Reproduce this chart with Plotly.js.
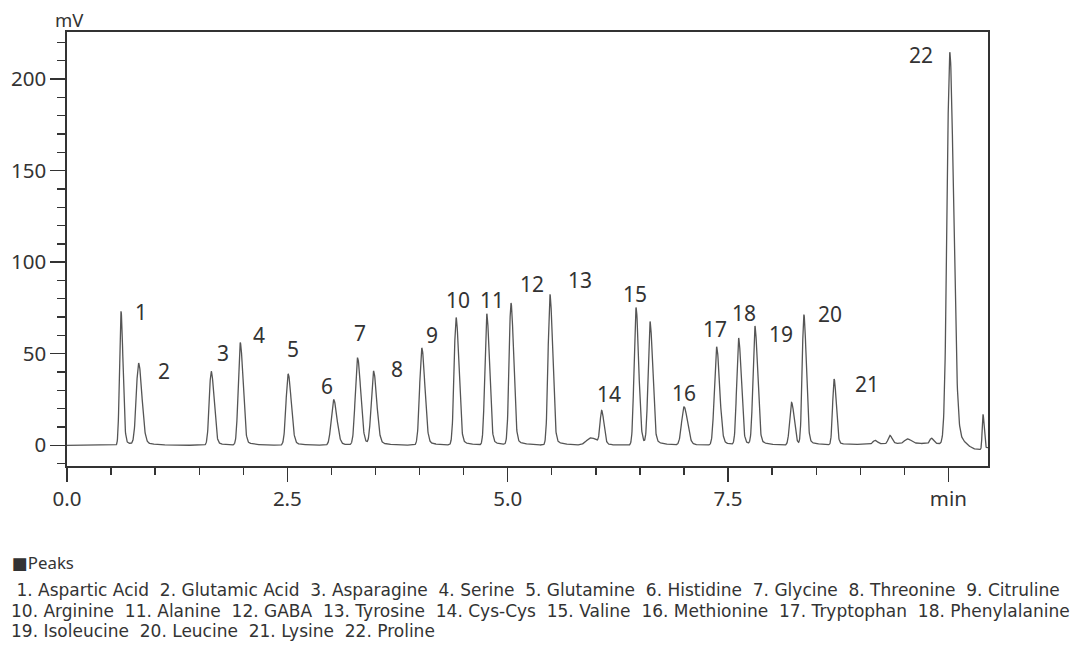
<!DOCTYPE html>
<html>
<head>
<meta charset="utf-8">
<script src="https://cdn.plot.ly/plotly-3.0.1.min.js"></script>
<style>
  html, body { margin: 0; padding: 0; background: #fff; }
  #chart { width: 1083px; height: 646px; }
</style>
</head>
<body>
<div id="chart"></div>
<script>
// ---- Data (peak table) ----
// retention time (min)
const peakTime   = [0.612, 0.812, 1.636, 1.965, 2.509, 3.024, 3.296, 3.477, 4.025, 4.414,
                    4.762, 5.037, 5.479, 5.944, 6.066, 6.455, 6.614, 7.000, 7.369, 7.619,
                    7.804, 8.220, 8.360, 8.703, 9.165, 9.335, 9.535, 9.807, 10.015, 10.300,
                    10.392, 9.500];
// peak height (mV)
const peakHeight = [73.2, 44.6, 40.4, 56.0, 38.8, 25.0, 47.5, 40.0, 53.1, 69.7,
                    71.7, 77.4, 82.4, 4.0, 18.0, 75.2, 66.8, 20.9, 53.7, 58.3,
                    64.6, 23.3, 71.0, 35.9, 2.0, 4.5, 2.5, 3.0, 214.0, -4.0,
                    19.0, 1.0];
// peak width (sigma, min)
const peakWidth  = [0.016, 0.026, 0.022, 0.022, 0.024, 0.026, 0.025, 0.025, 0.024, 0.022,
                    0.021, 0.021, 0.021, 0.050, 0.018, 0.021, 0.021, 0.027, 0.024, 0.021,
                    0.021, 0.021, 0.019, 0.017, 0.020, 0.018, 0.030, 0.018, 0.030, 0.100,
                    0.009, 0.400];

// peak names (numbered list under the chart)
const peakNames = ["Aspartic Acid", "Glutamic Acid", "Asparagine", "Serine", "Glutamine",
                   "Histidine", "Glycine", "Threonine", "Citruline", "Arginine", "Alanine",
                   "GABA", "Tyrosine", "Cys-Cys", "Valine", "Methionine", "Tryptophan",
                   "Phenylalanine", "Isoleucine", "Leucine", "Lysine", "Proline"];
const legendLineBreaks = [9, 18, 22];

// peak label numbers and where they are written (data coords)
const labelText = ["1","2","3","4","5","6","7","8","9","10","11","12","13","14","15","16","17","18","19","20","21","22"];
const labelPos = [[0.843,72.6],[1.095,40.4],[1.772,50.2],[2.180,60.1],[2.566,52.4],[2.951,32.2],
                  [3.325,61.2],[3.745,41.5],[4.138,60.1],[4.433,79.3],[4.822,79.3],[5.276,88.0],
                  [5.820,90.1],[6.148,27.8],[6.443,82.5],[7.002,28.4],[7.350,63.4],[7.682,72.1],
                  [8.100,60.6],[8.660,71.5],[9.080,33.3],[9.690,213.3]];

const xTickVals = [0, 2.5, 5, 7.5, 10];
const xTickText = ["0.0", "2.5", "5.0", "7.5", "min"];
const yTickVals = [0, 50, 100, 150, 200];

// ---- Build the detector trace from the peak table (tailed peak shape) ----
const tStart = 0, tEnd = 10.45, step = 0.0025;
const tt = [], signal = [];
for (let t = tStart; t <= tEnd + 1e-9; t += step) {
  let v = 0;
  for (let i = 0; i < peakTime.length; i++) {
    const d = t - peakTime[i], s = peakWidth[i], h = peakHeight[i];
    if (Math.abs(d) > 40 * s) continue;
    if (d < 0) {
      v += h * Math.exp(-0.5 * (d / s) * (d / s));
    } else {
      const sr = 1.4 * s;
      v += h * (Math.exp(-0.5 * (d / sr) * (d / sr)) +
                0.05 * Math.exp(-d / (5 * s)) * (1 - Math.exp(-0.5 * (d / s) * (d / s))));
    }
  }
  tt.push(+t.toFixed(4));
  signal.push(v);
}

const FONT = "Noto Sans, Open Sans, DejaVu Sans, sans-serif";
const LISTFONT = "DejaVu Sans, Noto Sans, sans-serif";
const TXT = "#333333";

const annotations = [];
for (let i = 0; i < labelText.length; i++) {
  annotations.push({
    x: labelPos[i][0], y: labelPos[i][1], xref: "x", yref: "y",
    text: labelText[i], showarrow: false, xanchor: "center", yanchor: "middle",
    font: {family: FONT, size: 21, color: TXT}
  });
}
annotations.push({
  x: 0.0025, y: (465.7 - 19.5) / 434, xref: "paper", yref: "paper", text: "mV", showarrow: false,
  xanchor: "center", yanchor: "middle", font: {family: FONT, size: 18.5, color: TXT}
});
// Peak list below chart
const lines = [];
let start = 0;
legendLineBreaks.forEach(function (end) {
  const parts = [];
  for (let k = start; k < end; k++) parts.push((k + 1) + ". " + peakNames[k]);
  lines.push(parts.join(" \u00a0"));
  start = end;
});
lines[0] = "\u00a0" + lines[0];
annotations.push({
  x: -0.0615, y: (465.7 - 562) / 434, xref: "paper", yref: "paper", text: "\u25A0Peaks",
  showarrow: false, xanchor: "left", yanchor: "middle", font: {family: FONT, size: 16.8, color: TXT}
});
const lineY = [590, 610.5, 631];
lines.forEach(function (ln, i) {
  annotations.push({
    x: -0.0615, y: (465.7 - lineY[i]) / 434, xref: "paper", yref: "paper", text: ln,
    showarrow: false, xanchor: "left", yanchor: "middle", borderpad: 0,
    font: {family: LISTFONT, size: 17.0, color: TXT}
  });
});

const trace = {
  x: tt, y: signal, type: "scatter", mode: "lines",
  line: {color: "#555555", width: 1.3}, hoverinfo: "skip"
};

const layout = {
  width: 1083, height: 646,
  margin: {l: 67, r: 95, t: 32, b: 180},
  paper_bgcolor: "#ffffff", plot_bgcolor: "#ffffff",
  showlegend: false,
  font: {family: FONT, color: TXT},
  xaxis: {
    range: [0, 10.449], showgrid: false, zeroline: false,
    showline: true, linecolor: "#333333", linewidth: 1.6, mirror: true,
    tickmode: "array", tickvals: xTickVals, ticktext: xTickText,
    ticks: "outside", ticklen: 14, tickwidth: 1.4, tickcolor: "#333333",
    tickfont: {family: FONT, size: 20.5, color: TXT},
    minor: {dtick: 0.5, tick0: 0, ticks: "outside", ticklen: 7, tickwidth: 1.4, tickcolor: "#333333", showgrid: false}
  },
  yaxis: {
    range: [-11.3, 225.66], showgrid: false, zeroline: false,
    showline: true, linecolor: "#333333", linewidth: 1.6, mirror: true,
    tickmode: "array", tickvals: yTickVals,
    ticks: "outside", ticklen: 15, tickwidth: 1.4, tickcolor: "#333333",
    tickfont: {family: FONT, size: 20.5, color: TXT},
    minor: {dtick: 10, tick0: 0, ticks: "outside", ticklen: 8, tickwidth: 1.4, tickcolor: "#333333", showgrid: false}
  },
  annotations: annotations
};

Plotly.newPlot("chart", [trace], layout, {displayModeBar: false, staticPlot: true});
</script>
</body>
</html>
